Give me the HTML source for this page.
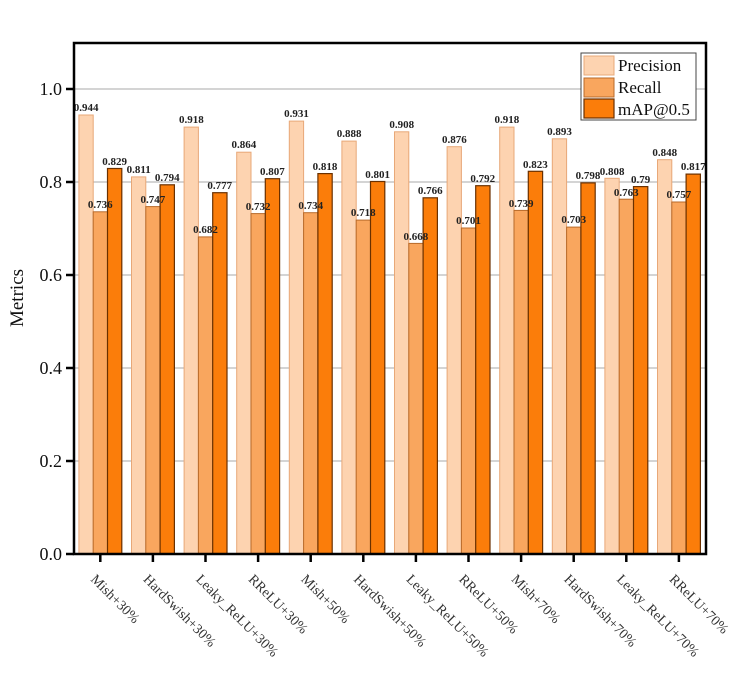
<!DOCTYPE html>
<html><head><meta charset="utf-8"><style>
html,body{margin:0;padding:0;background:#fff}
svg{display:block}
.v{font-family:"Liberation Serif",serif;font-size:11px;font-weight:bold;text-anchor:middle;fill:#222}
.xl{font-family:"Liberation Serif",serif;font-size:14px;fill:#333}
.yl{font-family:"Liberation Serif",serif;font-size:18px;text-anchor:end;fill:#111}
.p{fill:#fdd3b0;stroke:#e8a878;stroke-width:1}
.r{fill:#f9a65e;stroke:#b86a2a;stroke-width:1}
.m{fill:#fb7d0a;stroke:#6a3000;stroke-width:1.2}
</style></head><body>
<svg width="732" height="684" viewBox="0 0 732 684" xmlns="http://www.w3.org/2000/svg">
<rect x="0" y="0" width="732" height="684" fill="#fff"/>
<g stroke="#aaa" stroke-width="1">
<line x1="74" x2="706" y1="461" y2="461"/>
<line x1="74" x2="706" y1="368" y2="368"/>
<line x1="74" x2="706" y1="275" y2="275"/>
<line x1="74" x2="706" y1="182" y2="182"/>
<line x1="74" x2="706" y1="89" y2="89"/>
</g>
<g>
<g transform="translate(100.3,0)"><rect class="p" x="-21.4" y="115" width="14.3" height="439"/><rect class="r" x="-7.1" y="211.8" width="14.3" height="342.2"/><rect class="m" x="7.2" y="168.5" width="14.3" height="385.5"/><text class="v" x="-14.2" y="111">0.944</text><text class="v" x="0" y="208">0.736</text><text class="v" x="14.3" y="165">0.829</text></g>
<g transform="translate(152.9,0)"><rect class="p" x="-21.4" y="176.9" width="14.3" height="377.1"/><rect class="r" x="-7.1" y="206.6" width="14.3" height="347.4"/><rect class="m" x="7.2" y="184.8" width="14.3" height="369.2"/><text class="v" x="-14.2" y="173">0.811</text><text class="v" x="0" y="203">0.747</text><text class="v" x="14.3" y="181">0.794</text></g>
<g transform="translate(205.5,0)"><rect class="p" x="-21.4" y="127.1" width="14.3" height="426.9"/><rect class="r" x="-7.1" y="236.9" width="14.3" height="317.1"/><rect class="m" x="7.2" y="192.7" width="14.3" height="361.3"/><text class="v" x="-14.2" y="123">0.918</text><text class="v" x="0" y="233">0.682</text><text class="v" x="14.3" y="189">0.777</text></g>
<g transform="translate(258.1,0)"><rect class="p" x="-21.4" y="152.2" width="14.3" height="401.8"/><rect class="r" x="-7.1" y="213.6" width="14.3" height="340.4"/><rect class="m" x="7.2" y="178.7" width="14.3" height="375.3"/><text class="v" x="-14.2" y="148">0.864</text><text class="v" x="0" y="210">0.732</text><text class="v" x="14.3" y="175">0.807</text></g>
<g transform="translate(310.7,0)"><rect class="p" x="-21.4" y="121.1" width="14.3" height="432.9"/><rect class="r" x="-7.1" y="212.7" width="14.3" height="341.3"/><rect class="m" x="7.2" y="173.6" width="14.3" height="380.4"/><text class="v" x="-14.2" y="117">0.931</text><text class="v" x="0" y="209">0.734</text><text class="v" x="14.3" y="170">0.818</text></g>
<g transform="translate(363.3,0)"><rect class="p" x="-21.4" y="141.1" width="14.3" height="412.9"/><rect class="r" x="-7.1" y="220.1" width="14.3" height="333.9"/><rect class="m" x="7.2" y="181.5" width="14.3" height="372.5"/><text class="v" x="-14.2" y="137">0.888</text><text class="v" x="0" y="216">0.718</text><text class="v" x="14.3" y="178">0.801</text></g>
<g transform="translate(415.9,0)"><rect class="p" x="-21.4" y="131.8" width="14.3" height="422.2"/><rect class="r" x="-7.1" y="243.4" width="14.3" height="310.6"/><rect class="m" x="7.2" y="197.8" width="14.3" height="356.2"/><text class="v" x="-14.2" y="128">0.908</text><text class="v" x="0" y="240">0.668</text><text class="v" x="14.3" y="194">0.766</text></g>
<g transform="translate(468.5,0)"><rect class="p" x="-21.4" y="146.7" width="14.3" height="407.3"/><rect class="r" x="-7.1" y="228" width="14.3" height="326"/><rect class="m" x="7.2" y="185.7" width="14.3" height="368.3"/><text class="v" x="-14.2" y="143">0.876</text><text class="v" x="0" y="224">0.701</text><text class="v" x="14.3" y="182">0.792</text></g>
<g transform="translate(521.1,0)"><rect class="p" x="-21.4" y="127.1" width="14.3" height="426.9"/><rect class="r" x="-7.1" y="210.4" width="14.3" height="343.6"/><rect class="m" x="7.2" y="171.3" width="14.3" height="382.7"/><text class="v" x="-14.2" y="123">0.918</text><text class="v" x="0" y="207">0.739</text><text class="v" x="14.3" y="168">0.823</text></g>
<g transform="translate(573.7,0)"><rect class="p" x="-21.4" y="138.8" width="14.3" height="415.2"/><rect class="r" x="-7.1" y="227.1" width="14.3" height="326.9"/><rect class="m" x="7.2" y="182.9" width="14.3" height="371.1"/><text class="v" x="-14.2" y="135">0.893</text><text class="v" x="0" y="223">0.703</text><text class="v" x="14.3" y="179">0.798</text></g>
<g transform="translate(626.3,0)"><rect class="p" x="-21.4" y="178.3" width="14.3" height="375.7"/><rect class="r" x="-7.1" y="199.2" width="14.3" height="354.8"/><rect class="m" x="7.2" y="186.6" width="14.3" height="367.4"/><text class="v" x="-14.2" y="175">0.808</text><text class="v" x="0" y="196">0.763</text><text class="v" x="14.3" y="183">0.79</text></g>
<g transform="translate(678.9,0)"><rect class="p" x="-21.4" y="159.7" width="14.3" height="394.3"/><rect class="r" x="-7.1" y="202" width="14.3" height="352"/><rect class="m" x="7.2" y="174.1" width="14.3" height="379.9"/><text class="v" x="-14.2" y="156">0.848</text><text class="v" x="0" y="198">0.757</text><text class="v" x="14.3" y="170">0.817</text></g>
</g>
<rect x="74" y="43" width="632" height="511" fill="none" stroke="#000" stroke-width="2.5"/>
<g stroke="#000" stroke-width="2.5">
<line x1="66" x2="74" y1="554" y2="554"/><line x1="66" x2="74" y1="461" y2="461"/><line x1="66" x2="74" y1="368" y2="368"/><line x1="66" x2="74" y1="275" y2="275"/><line x1="66" x2="74" y1="182" y2="182"/><line x1="66" x2="74" y1="89" y2="89"/>
<line x1="100.3" x2="100.3" y1="554" y2="562"/><line x1="152.9" x2="152.9" y1="554" y2="562"/><line x1="205.5" x2="205.5" y1="554" y2="562"/><line x1="258.1" x2="258.1" y1="554" y2="562"/><line x1="310.7" x2="310.7" y1="554" y2="562"/><line x1="363.3" x2="363.3" y1="554" y2="562"/><line x1="415.9" x2="415.9" y1="554" y2="562"/><line x1="468.5" x2="468.5" y1="554" y2="562"/><line x1="521.1" x2="521.1" y1="554" y2="562"/><line x1="573.7" x2="573.7" y1="554" y2="562"/><line x1="626.3" x2="626.3" y1="554" y2="562"/><line x1="678.9" x2="678.9" y1="554" y2="562"/>
</g>
<text class="yl" x="62" y="560">0.0</text><text class="yl" x="62" y="467">0.2</text><text class="yl" x="62" y="374">0.4</text><text class="yl" x="62" y="281">0.6</text><text class="yl" x="62" y="188">0.8</text><text class="yl" x="62" y="95">1.0</text>
<text transform="translate(23,298) rotate(-90)" style="font-family:'Liberation Serif',serif;font-size:19px;text-anchor:middle;fill:#111">Metrics</text>
<g>
<text class="xl" transform="translate(90,580) rotate(45)">Mish+30%</text>
<text class="xl" transform="translate(142.6,580) rotate(45)">HardSwish+30%</text>
<text class="xl" transform="translate(195.2,580) rotate(45)">Leaky_ReLU+30%</text>
<text class="xl" transform="translate(247.8,580) rotate(45)">RReLU+30%</text>
<text class="xl" transform="translate(300.4,580) rotate(45)">Mish+50%</text>
<text class="xl" transform="translate(353,580) rotate(45)">HardSwish+50%</text>
<text class="xl" transform="translate(405.6,580) rotate(45)">Leaky_ReLU+50%</text>
<text class="xl" transform="translate(458.2,580) rotate(45)">RReLU+50%</text>
<text class="xl" transform="translate(510.8,580) rotate(45)">Mish+70%</text>
<text class="xl" transform="translate(563.4,580) rotate(45)">HardSwish+70%</text>
<text class="xl" transform="translate(616,580) rotate(45)">Leaky_ReLU+70%</text>
<text class="xl" transform="translate(668.6,580) rotate(45)">RReLU+70%</text>
</g>
<rect x="581" y="53" width="115" height="67" fill="#fff" stroke="#444" stroke-width="1"/>
<rect class="p" x="584" y="56" width="30" height="19"/>
<rect class="r" x="584" y="78" width="30" height="19"/>
<rect class="m" x="584" y="99" width="30" height="19"/>
<g style="font-family:'Liberation Serif',serif;font-size:17px;fill:#111">
<text x="618" y="71">Precision</text><text x="618" y="93">Recall</text><text x="618" y="115">mAP@0.5</text>
</g>
</svg>
</body></html>
